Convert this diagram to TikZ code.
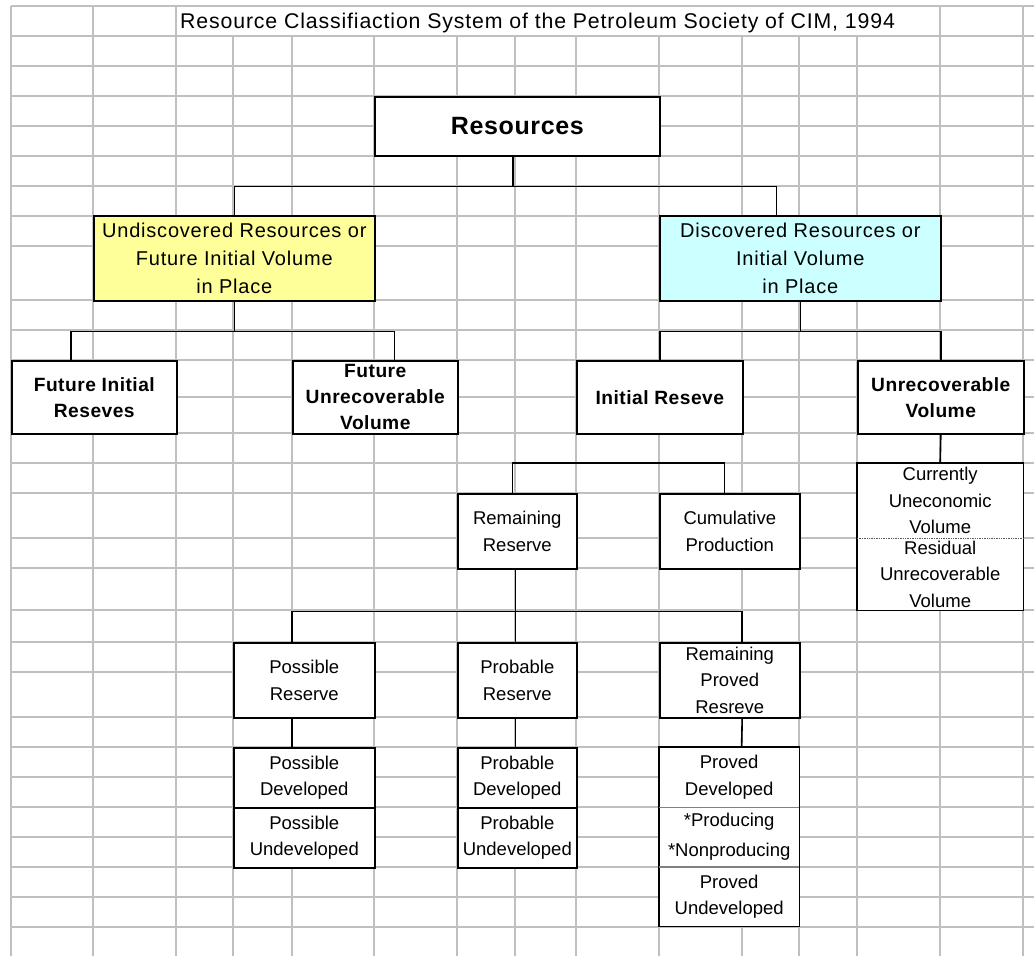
\documentclass[tikz,border=0pt]{standalone}
\usepackage{fontspec}
\setmainfont{Liberation Sans}
\newfontfamily\widefont{Liberation Sans}[LetterSpace=4]
\newfontfamily\widebold{Liberation Sans}[LetterSpace=2.5]
\usetikzlibrary{calc}

\definecolor{gridgray}{HTML}{C0C0C0}
\definecolor{undiscfill}{HTML}{FFFF99}
\definecolor{discfill}{HTML}{CCFFFF}

\tikzset{
  gridline/.style={gridgray, line width=1.2pt},
  box/.style={draw, line width=1.6pt, fill=white, inner sep=0pt, align=center, anchor=north west},
  cell/.style={fill=white, inner sep=0pt, align=center, anchor=north west},
  link/.style={line width=1.6pt},
  thinlink/.style={line width=1.1pt},
  celltxt/.style={font=\fontsize{18.5}{26.5}\selectfont},
  widetxt/.style={font=\widefont\fontsize{20}{28}\selectfont},
  boldtxt/.style={font=\widebold\bfseries\fontsize{19.2}{26}\selectfont},
}

\begin{document}
\begin{tikzpicture}[x=1pt, y=-1pt]
\useasboundingbox (0,0) rectangle (1034,956);

% spreadsheet grid
\foreach \x in {11,93,176,940,1023}
  \draw [gridline] (\x,6) -- (\x,956);
\foreach \x in {233,292,374,457,515,576,659,742,799,857}
  \draw [gridline] (\x,36) -- (\x,956);
\foreach \y in {6,36,66,96,126,156,186,216,246,300,330,360,397,433,463,493,538,568,610,642,672,717,747,777,807,837,867,897,927}
  \draw [gridline] (11,\y) -- (1034,\y);

\node [anchor=base west, inner sep=0pt, font=\widefont\fontsize{21.3}{24}\selectfont] (title) at (180,28)
  {Resource Classifiaction System of the Petroleum Society of CIM, 1994};

% top level
\node [box, minimum width=285pt, minimum height=59pt, font=\widebold\bfseries\fontsize{25}{30}\selectfont] (res) at (374,96) {Resources};

\node [box, widetxt, fill=undiscfill, minimum width=281pt, minimum height=85pt] (undisc) at (93,215)
  {Undiscovered Resources or\\Future Initial Volume\\in Place};
\node [box, widetxt, fill=discfill, minimum width=281pt, minimum height=85pt] (disc) at (659,215)
  {Discovered Resources or\\Initial Volume\\in Place};

\node [box, boldtxt, minimum width=165pt, minimum height=73pt] (fir) at (11,360) {Future Initial\\Reseves};
\node [box, boldtxt, minimum width=165pt, minimum height=73pt] (fuv) at (292,360) {Future\\Unrecoverable\\Volume};
\node [box, boldtxt, minimum width=166pt, minimum height=73pt] (ir) at (576,360) {Initial Reseve};
\node [box, boldtxt, minimum width=166pt, minimum height=73pt] (uv) at (857,360) {Unrecoverable\\Volume};

% unrecoverable split
\node [cell, celltxt, minimum width=166pt, minimum height=75pt] (cuv) at (857,463) {Currently\\Uneconomic\\Volume};
\node [cell, celltxt, minimum width=166pt, minimum height=72pt] (resid) at (857,538) {Residual\\Unrecoverable\\Volume};
\draw [line width=1.6pt] (cuv.north west) rectangle (resid.south east);
\draw [black!65, line width=1.4pt, densely dotted] (cuv.south west) -- (cuv.south east);

% reserves
\node [box, celltxt, minimum width=119pt, minimum height=75pt] (rem) at (457,493) {Remaining\\Reserve};
\node [box, celltxt, minimum width=140pt, minimum height=75pt] (cum) at (659,493) {Cumulative\\Production};

\node [box, celltxt, minimum width=141pt, minimum height=75pt] (pos) at (233,642) {Possible\\Reserve};
\node [box, celltxt, minimum width=119pt, minimum height=75pt] (prob) at (457,642) {Probable\\Reserve};
\node [box, celltxt, minimum width=140pt, minimum height=75pt] (rpr) at (659,642) {Remaining\\Proved\\Resreve};

\node [box, celltxt, minimum width=141pt, minimum height=60pt] (posdev) at (233,747) {Possible\\Developed};
\node [box, celltxt, minimum width=141pt, minimum height=60pt] (posundev) at (233,807) {Possible\\Undeveloped};
\node [box, celltxt, minimum width=119pt, minimum height=60pt] (probdev) at (457,747) {Probable\\Developed};
\node [box, celltxt, minimum width=119pt, minimum height=60pt] (probundev) at (457,807) {Probable\\Undeveloped};

\node [cell, celltxt, minimum width=140pt, minimum height=60pt] (provdev) at (659,747) {Proved\\Developed};
\node [cell, celltxt, minimum width=140pt, minimum height=30pt] (prod) at (659,807) {*Producing};
\node [cell, celltxt, minimum width=140pt, minimum height=30pt] (nonprod) at (659,837) {*Nonproducing};
\node [cell, celltxt, minimum width=140pt, minimum height=59pt] (provundev) at (659,867) {Proved\\Undeveloped};
\draw [line width=1.6pt] (provdev.north west) rectangle (provundev.south east);
\draw [black!50, line width=1.6pt] (provdev.south west) -- (provdev.south east);
\draw [black!50, line width=1.6pt] (provundev.north west) -- (provundev.north east);

% connectors
\draw [link] ([xshift=-4.5pt]res.south) -- ++(0,30) coordinate (r1) -| (undisc.north);
\draw [link] (r1) -| ([xshift=-24pt]disc.north);
\draw [link] (undisc.south) -- ++(0,30) coordinate (u1) -| ([xshift=-23.5pt]fir.north);
\draw [link] (u1) -| ([xshift=19pt]fuv.north);
\draw [link] (disc.south) -- ++(0,30) coordinate (d1) -| (ir.north);
\draw [link] (d1) -| (uv.north);
\draw [link] (uv.south) -- (cuv.north);
\draw [thinlink] ([xshift=-4.4pt]rem.north) -- ++(0,-30) -| ([xshift=-5.4pt]cum.north);
\draw [link] ([xshift=-1.9pt]rem.south) -- ++(0,42) coordinate (m1) -| ([xshift=-12.1pt]pos.north);
\draw [link] (m1) -- ([xshift=-1.9pt]prob.north);
\draw [link] (m1) -| ([xshift=12.4pt]rpr.north);
\draw [link] ([xshift=-12.1pt]pos.south) -- ([xshift=-12.1pt]posdev.north);
\draw [link] ([xshift=-1.9pt]prob.south) -- ([xshift=-1.9pt]probdev.north);
\draw [link] ([xshift=12.4pt]rpr.south) -- ([xshift=12.4pt]provdev.north);
\end{tikzpicture}
\end{document}
